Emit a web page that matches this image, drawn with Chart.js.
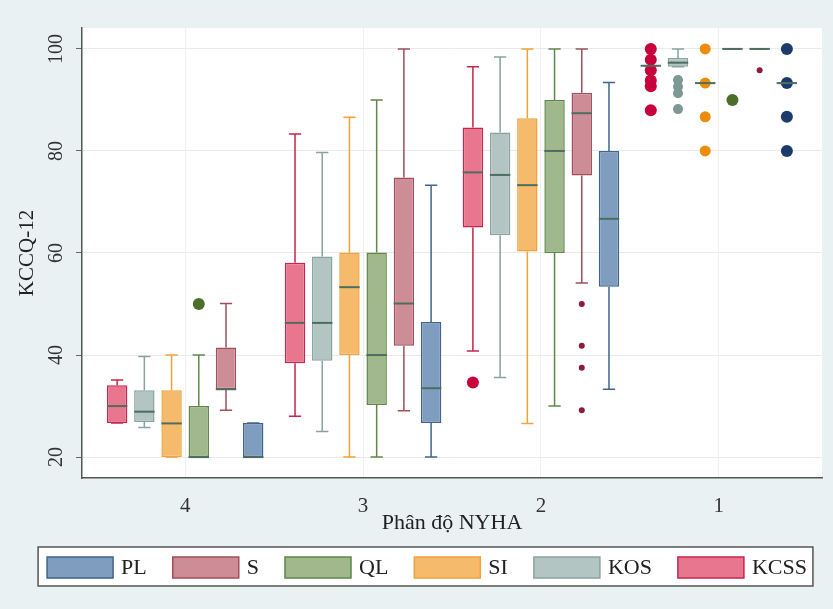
<!DOCTYPE html>
<html>
<head>
<meta charset="utf-8">
<script src="https://cdn.jsdelivr.net/npm/chart.js@4"></script>
<style>
  html, body { margin: 0; padding: 0; background: #eaf1f3; }
  #wrap { width: 833px; height: 609px; }
</style>
</head>
<body>
<div id="wrap"><canvas id="chart"></canvas></div>
<script>
const groups = ['4', '3', '2', '1'];
const series = ['KCSS', 'KOS', 'SI', 'QL', 'S', 'PL'];

// one row per series, one column per NYHA group (4, 3, 2, 1)
const lowerWhisker = [
  [26.7, 28.0, 40.8, 96.7],
  [25.8, 25.0, 35.6, 96.5],
  [20.0, 20.0, 26.6, 93.3],
  [20.0, 20.0, 30.0, 100],
  [29.2, 29.1, 54.1, 100],
  [20.0, 20.0, 33.3, 93.3],
];
const q1 = [
  [26.7, 38.4, 65.0, 96.7],
  [26.9, 38.9, 63.5, 96.5],
  [20.0, 40.0, 60.3, 93.3],
  [20.0, 30.2, 60.0, 100],
  [33.3, 41.8, 75.2, 100],
  [20.0, 26.7, 53.4, 93.3],
];
const median = [
  [30.0, 46.3, 75.8, 96.7],
  [28.9, 46.3, 75.3, 97.3],
  [26.6, 53.3, 73.3, 93.3],
  [20.0, 40.0, 80.0, 100],
  [33.3, 50.1, 87.4, 100],
  [20.0, 33.5, 66.7, 93.3],
];
const q3 = [
  [34.1, 58.1, 84.6, 96.7],
  [33.1, 59.3, 83.6, 98.2],
  [33.1, 60.1, 86.4, 93.3],
  [30.0, 60.1, 90.0, 100],
  [41.5, 74.8, 91.4, 100],
  [26.7, 46.5, 80.0, 93.3],
];
const upperWhisker = [
  [35.1, 83.3, 96.5, 96.7],
  [39.7, 79.7, 98.4, 100],
  [40.0, 86.6, 100, 93.3],
  [40.0, 90.0, 100, 100],
  [50.1, 100, 100, 100],
  [26.7, 73.3, 93.4, 93.3],
];
const outliers = [
  [[], [], [34.6], [100, 97.9, 95.8, 93.8, 92.7, 88.0]],
  [[], [], [], [93.9, 92.6, 91.3, 88.2]],
  [[], [], [], [100, 93.3, 86.7, 80.0]],
  [[50.0], [], [], [90.0]],
  [[], [], [50.0, 41.8, 37.5, 29.2], [95.8]],
  [[], [], [], [100, 93.3, 86.7, 80.0]],
];
const yTicks = [20, 40, 60, 80, 100];

const fills = ['#e8768f', '#b2c5c2', '#f6ba6c', '#a1b88d', '#cc8d96', '#7f9dbf'];
const borders = ['#c9244e', '#8aa3a0', '#f0a23a', '#5e8849', '#a04f5b', '#3f6590'];
const dotColors = ['#c8003c', '#7c9893', '#ec8d0a', '#4b6f2a', '#8c1c3d', '#1b3c6b'];
const dotRadius = [6, 5, 5.5, 6, 3, 6];
const medianColor = '#4d6e5e';
const fontFamily = '"Liberation Serif", "Times New Roman", serif';

Chart.defaults.font.family = fontFamily;
Chart.defaults.color = '#222';

// Stata style key: one framed row under the plot, last series first
function drawKey(chart) {
  const { ctx } = chart;
  const swW = 66, swH = 21, gap = 8, pad = 26;
  const order = series.map((s, k) => k).reverse();
  ctx.save();
  ctx.font = '22px ' + fontFamily;
  const widths = order.map(k => swW + gap + ctx.measureText(series[k]).width);
  const total = widths.reduce((a, b) => a + b, 0) + pad * (order.length - 1);
  let x = 427 - total / 2;
  const top = 557;
  ctx.fillStyle = '#ffffff';
  ctx.fillRect(x - 9, top - 10, total + 15, swH + 18);
  ctx.strokeStyle = '#555';
  ctx.lineWidth = 1.5;
  ctx.strokeRect(x - 9, top - 10, total + 15, swH + 18);
  ctx.textBaseline = 'middle';
  order.forEach((k, j) => {
    ctx.fillStyle = fills[k];
    ctx.fillRect(x, top, swW, swH);
    ctx.strokeStyle = borders[k];
    ctx.strokeRect(x, top, swW, swH);
    ctx.fillStyle = '#222';
    ctx.fillText(series[k], x + swW + gap, top + swH / 2 + 1);
    x += widths[j] + pad;
  });
  ctx.restore();
}

// whiskers, medians and outside values, placed with the y scale and the bar elements
const boxPlot = {
  id: 'boxPlot',
  beforeDraw(chart) {
    const { ctx, chartArea: a } = chart;
    ctx.save();
    ctx.fillStyle = '#eaf1f3';
    ctx.fillRect(0, 0, chart.width, chart.height);
    ctx.fillStyle = '#ffffff';
    ctx.fillRect(a.left, a.top, a.right - a.left, a.bottom - a.top);
    ctx.restore();
  },
  beforeDatasetsDraw(chart) {
    const { ctx } = chart;
    const y = chart.scales.y;
    ctx.save();
    ctx.lineWidth = 1.5;
    series.forEach((name, k) => {
      ctx.strokeStyle = borders[k];
      chart.getDatasetMeta(k).data.forEach((bar, i) => {
        const cx = bar.x;
        const cap = bar.width * 0.3;
        const yHi = y.getPixelForValue(upperWhisker[k][i]);
        const yLo = y.getPixelForValue(lowerWhisker[k][i]);
        ctx.beginPath();
        ctx.moveTo(cx, y.getPixelForValue(q3[k][i]));
        ctx.lineTo(cx, yHi);
        ctx.moveTo(cx, y.getPixelForValue(q1[k][i]));
        ctx.lineTo(cx, yLo);
        ctx.moveTo(cx - cap, yHi);
        ctx.lineTo(cx + cap, yHi);
        ctx.moveTo(cx - cap, yLo);
        ctx.lineTo(cx + cap, yLo);
        ctx.stroke();
      });
    });
    ctx.restore();
  },
  afterDatasetsDraw(chart) {
    const { ctx } = chart;
    const y = chart.scales.y;
    ctx.save();
    series.forEach((name, k) => {
      chart.getDatasetMeta(k).data.forEach((bar, i) => {
        ctx.fillStyle = dotColors[k];
        outliers[k][i].forEach(v => {
          ctx.beginPath();
          ctx.arc(bar.x, y.getPixelForValue(v), dotRadius[k], 0, Math.PI * 2);
          ctx.fill();
        });
        const ym = y.getPixelForValue(median[k][i]);
        ctx.strokeStyle = medianColor;
        ctx.lineWidth = 2;
        ctx.beginPath();
        ctx.moveTo(bar.x - bar.width / 2, ym);
        ctx.lineTo(bar.x + bar.width / 2, ym);
        ctx.stroke();
      });
    });
    ctx.restore();
  },
  afterDraw(chart) {
    drawKey(chart);
  }
};

const datasets = series.map((name, k) => ({
  label: name,
  data: groups.map((g, i) => ({ x: i + 1, y: [q1[k][i], q3[k][i]] })),
  backgroundColor: fills[k],
  borderColor: borders[k],
  borderWidth: 1.5,
  borderSkipped: false,
  categoryPercentage: 0.918,
  barPercentage: 0.75,
}));

new Chart(document.getElementById('chart'), {
  type: 'bar',
  data: { datasets },
  plugins: [boxPlot],
  options: {
    responsive: true,
    maintainAspectRatio: false,
    animation: false,
    layout: { padding: { left: 10, right: 11, top: 28, bottom: 74 } },
    plugins: {
      tooltip: { enabled: false },
      legend: { display: false },
    },
    scales: {
      x: {
        type: 'linear',
        offset: false,
        min: 0.42,
        max: 4.58,
        afterBuildTicks: s => { s.ticks = groups.map((g, i) => ({ value: i + 1 })); },
        afterFit: s => { s.height = 57; },
        grid: { color: '#f0f0f0', drawTicks: false, offset: false },
        border: { color: '#555', width: 1.5 },
        ticks: {
          padding: 16,
          font: { size: 21 },
          color: '#333',
          callback: v => groups[v - 1],
        },
        title: {
          display: true,
          text: 'Phân độ NYHA',
          font: { size: 22 },
          color: '#222',
          padding: { top: 0, bottom: -1 },
        },
      },
      y: {
        min: 15.9,
        max: 104.1,
        afterBuildTicks: s => { s.ticks = yTicks.map(v => ({ value: v })); },
        afterFit: s => { s.width = 72; },
        grid: { color: '#ebebeb', tickColor: '#666', tickLength: 6 },
        border: { color: '#555', width: 1.5 },
        ticks: {
          minRotation: 90,
          maxRotation: 90,
          crossAlign: 'center',
          padding: 4,
          font: { size: 20 },
          color: '#333',
        },
        title: {
          display: true,
          text: 'KCCQ-12',
          font: { size: 21 },
          color: '#222',
          padding: { top: 5, bottom: 0 },
        },
      },
    },
  },
});
</script>
</body>
</html>
